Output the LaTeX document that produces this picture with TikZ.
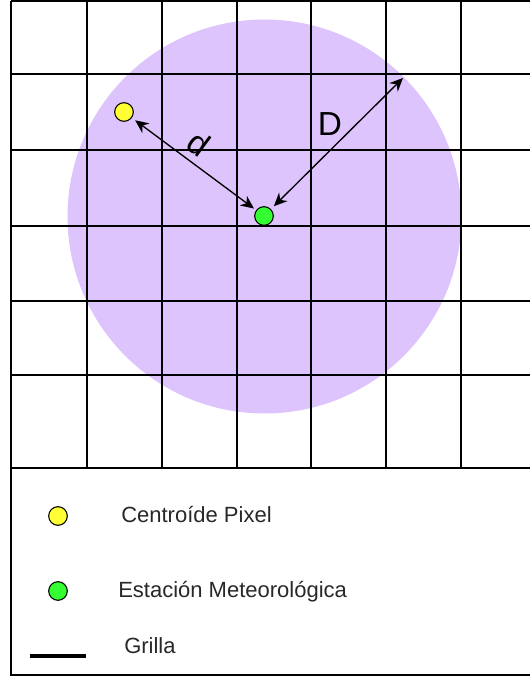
\documentclass[tikz,border=0pt]{standalone}
\usepackage{fontspec}
\setmainfont{Liberation Sans}
\usetikzlibrary{arrows.meta,calc}
\definecolor{zonaLila}{RGB}{222,196,252}
\definecolor{ptAmarillo}{RGB}{255,255,51}
\definecolor{ptVerde}{RGB}{51,255,51}
\definecolor{txtGris}{RGB}{40,40,40}

\begin{document}
\begin{tikzpicture}[x=0.75pt,y=-0.75pt,
    grilla/.style={black, line width=1.1pt},
    punto/.style={circle, draw=black, line width=0.8pt, inner sep=0pt, minimum size=14pt},
    medida/.style={black, line width=1pt, {Stealth[length=10pt,width=9pt]}-{Stealth[length=10pt,width=9pt]}},
    leyenda/.style={inner sep=0pt, anchor=base west, text=txtGris, font=\fontsize{16.5}{19}\selectfont}]
    \useasboundingbox (0,0) rectangle (530,681);
    \clip (0,0) rectangle (530,681);

    % radio de influencia
    \fill[zonaLila] (264.5,216.5) circle (197);

    % grilla de pixeles
    \foreach \x in {87,162,237,311,386,461}
        \draw[grilla] (\x,1) -- (\x,468);
    \foreach \y in {1,74,150,226,301,375}
        \draw[grilla] (11,\y) -- (540,\y);
    \draw[grilla] (11,1) -- (11,468);

    % puntos y distancias
    \node[punto, fill=ptAmarillo] (cent) at (124,112) {};
    \node[punto, fill=ptVerde] (est) at (264,216) {};
    \coordinate (borde) at (403,78);
    \draw[medida, shorten <=3pt, shorten >=2pt] (cent) -- (est);
    \draw[medida, shorten <=3pt] (est) -- (borde);
    \node[inner sep=0pt, rotate=-36.5, font=\fontsize{25}{30}\selectfont] (lblD1) at (199,143) {d};
    \node[inner sep=0pt, font=\fontsize{25}{30}\selectfont] (lblD2) at (330,124) {D};

    % leyenda
    \draw[grilla] (11,468) rectangle (545,675);
    \node[punto, fill=ptAmarillo] (leyCent) at (58,516) {};
    \node[leyenda] (txtCent) at (121,522.7) {Centroíde Pixel};
    \node[punto, fill=ptVerde] (leyEst) at (58,591) {};
    \node[leyenda] (txtEst) at (118,597.3) {Estación Meteorológica};
    \coordinate (leyGa) at (30,656);
    \coordinate (leyGb) at (86,656);
    \draw[black, line width=3pt] (leyGa) -- (leyGb);
    \node[leyenda] (txtGrilla) at (124,653.3) {Grilla};
\end{tikzpicture}
\end{document}
